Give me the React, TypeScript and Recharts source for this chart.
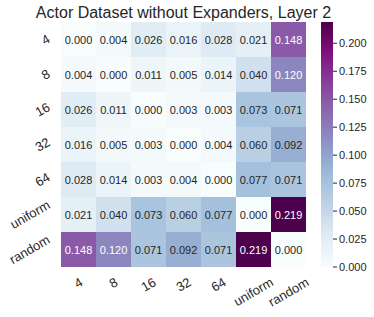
import { BarChart, Bar, XAxis, YAxis, Cell, LabelList } from 'recharts';

const COLS = ['4', '8', '16', '32', '64', 'uniform', 'random'];
const ROWS = ['4', '8', '16', '32', '64', 'uniform', 'random'];

// rows top -> bottom, columns left -> right
const VALUES: number[][] = [
  [0.0, 0.004, 0.026, 0.016, 0.028, 0.021, 0.148],
  [0.004, 0.0, 0.011, 0.005, 0.014, 0.04, 0.12],
  [0.026, 0.011, 0.0, 0.003, 0.003, 0.073, 0.071],
  [0.016, 0.005, 0.003, 0.0, 0.004, 0.06, 0.092],
  [0.028, 0.014, 0.003, 0.004, 0.0, 0.077, 0.071],
  [0.021, 0.04, 0.073, 0.06, 0.077, 0.0, 0.219],
  [0.148, 0.12, 0.071, 0.092, 0.071, 0.219, 0.0],
];

const COLORBAR_MAX = 0.219;
const COLORBAR_TICKS = [0, 0.025, 0.05, 0.075, 0.1, 0.125, 0.15, 0.175, 0.2];

const BUPU = ['#f7fcfd', '#e0ecf4', '#bfd3e6', '#9ebcda', '#8c96c6', '#8c6bb1', '#88419d', '#810f7c', '#4d004b'];

const FONT = "'Liberation Sans', Arial, sans-serif";
const INK = '#262626';

function hexToRgb(h: string) {
  return [1, 3, 5].map((k) => parseInt(h.slice(k, k + 2), 16));
}

function bupu(t: number): number[] {
  const c = Math.max(0, Math.min(1, t)) * (BUPU.length - 1);
  const i = Math.min(Math.floor(c), BUPU.length - 2);
  const f = c - i;
  const a = hexToRgb(BUPU[i]);
  const b = hexToRgb(BUPU[i + 1]);
  return a.map((v, k) => v + (b[k] - v) * f);
}

function cellColor(v: number) {
  const [r, g, b] = bupu(v / COLORBAR_MAX).map(Math.round);
  return `rgb(${r},${g},${b})`;
}

function textColor(v: number) {
  const lin = bupu(v / COLORBAR_MAX).map((c) => {
    const s = c / 255;
    return s <= 0.03928 ? s / 12.92 : Math.pow((s + 0.055) / 1.055, 2.4);
  });
  const lum = 0.2126 * lin[0] + 0.7152 * lin[1] + 0.0722 * lin[2];
  return lum > 0.408 ? INK : '#ffffff';
}

let ctx: CanvasRenderingContext2D | null = null;
function measure(text: string, size: number) {
  if (!ctx) ctx = document.createElement('canvas').getContext('2d');
  if (!ctx) return text.length * size * 0.55;
  ctx.font = `${size}px ${FONT}`;
  return ctx.measureText(text).width;
}

const LABEL_SIZE = 13;
const SIN = 0.5;
const COS = 0.866;

function XTick(props: any) {
  const { x, y, payload } = props;
  const w = measure(String(payload.value), LABEL_SIZE);
  const h = LABEL_SIZE * 1.15;
  const cy = y + 7.5 + (w * SIN + h * COS) / 2;
  return (
    <text
      x={x}
      y={cy}
      transform={`rotate(-30 ${x} ${cy})`}
      textAnchor="middle"
      dominantBaseline="central"
      fontSize={LABEL_SIZE}
      fontFamily={FONT}
      fill={INK}
    >
      {payload.value}
    </text>
  );
}

function YTick(props: any) {
  const { x, y, payload } = props;
  const label = ROWS[ROWS.length - 1 - Math.floor(payload.value)];
  const w = measure(label, LABEL_SIZE);
  const h = LABEL_SIZE * 1.15;
  const cx = x - 8.5 - (w * COS + h * SIN) / 2;
  return (
    <text
      x={cx}
      y={y}
      transform={`rotate(-30 ${cx} ${y})`}
      textAnchor="middle"
      dominantBaseline="central"
      fontSize={LABEL_SIZE}
      fontFamily={FONT}
      fill={INK}
    >
      {label}
    </text>
  );
}

const data = COLS.map((c, j) => {
  const row: Record<string, string | number> = { name: c };
  ROWS.forEach((_, i) => {
    row[`r${i}`] = 1;
    row[`v${i}`] = VALUES[i][j];
  });
  return row;
});

const yTicks = ROWS.map((_, i) => i + 0.5);
const stackOrder = ROWS.map((_, i) => ROWS.length - 1 - i);

export default function App() {
  return (
    <div style={{ position: 'absolute', left: 0, top: 0, width: 374, height: 317, background: '#fff' }}>
      <div
        style={{
          position: 'absolute',
          left: 0,
          top: 5,
          width: 367,
          textAlign: 'center',
          fontFamily: FONT,
          fontSize: 16,
          lineHeight: '16px',
          color: INK,
          whiteSpace: 'nowrap',
        }}
      >
        Actor Dataset without Expanders, Layer 2
      </div>
      <div style={{ position: 'absolute', left: 0, top: 0 }}>
        <BarChart
          width={374}
          height={317}
          data={data}
          margin={{ top: 22, right: 68, bottom: 0, left: 0 }}
          barCategoryGap={0}
          barGap={0}
        >
          <XAxis
            dataKey="name"
            type="category"
            height={50}
            interval={0}
            tickLine={false}
            axisLine={false}
            tickSize={0}
            tickMargin={0}
            tick={(p: any) => <XTick {...p} />}
          />
          <YAxis
            type="number"
            domain={[0, ROWS.length]}
            ticks={yTicks}
            width={61}
            interval={0}
            tickLine={false}
            axisLine={false}
            tickSize={0}
            tickMargin={0}
            tick={(p: any) => <YTick {...p} />}
          />
          {stackOrder.map((i) => (
            <Bar key={i} dataKey={`r${i}`} stackId="m" isAnimationActive={false}>
              {COLS.map((_, j) => (
                <Cell key={j} fill={cellColor(VALUES[i][j])} />
              ))}
              <LabelList
                dataKey={`v${i}`}
                content={(p: any) => {
                  const v = Number(p.value);
                  return (
                    <text
                      x={Number(p.x) + Number(p.width) / 2}
                      y={Number(p.y) + Number(p.height) / 2}
                      textAnchor="middle"
                      dominantBaseline="central"
                      fontSize={11}
                      fontFamily={FONT}
                      fill={textColor(v)}
                    >
                      {v.toFixed(3)}
                    </text>
                  );
                }}
              />
            </Bar>
          ))}
        </BarChart>
      </div>
      <div style={{ position: 'absolute', left: 321, top: 0 }}>
        <BarChart
          width={53}
          height={317}
          data={[{ name: 'scale', v: COLORBAR_MAX }]}
          margin={{ top: 22, right: 0, bottom: 50, left: 0 }}
          barCategoryGap={0}
        >
          <defs>
            <linearGradient id="bupuGrad" x1="0" y1="1" x2="0" y2="0">
              {BUPU.map((c, k) => (
                <stop key={k} offset={k / (BUPU.length - 1)} stopColor={c} />
              ))}
            </linearGradient>
          </defs>
          <XAxis dataKey="name" hide />
          <YAxis
            orientation="right"
            type="number"
            domain={[0, COLORBAR_MAX]}
            ticks={COLORBAR_TICKS}
            width={41}
            axisLine={false}
            tickSize={4}
            tickMargin={2}
            tickLine={{ stroke: INK }}
            tick={{ fontSize: 11, fontFamily: FONT, fill: INK }}
            tickFormatter={(v: number) => v.toFixed(3)}
            interval={0}
          />
          <Bar dataKey="v" fill="url(#bupuGrad)" isAnimationActive={false} />
        </BarChart>
      </div>
    </div>
  );
}
